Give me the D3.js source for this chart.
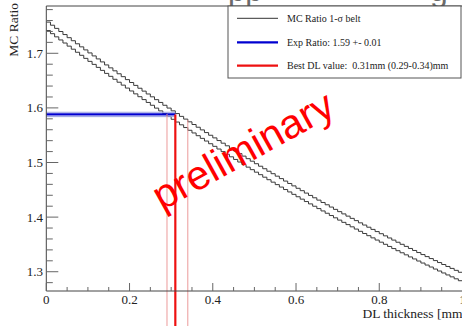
<!DOCTYPE html>
<html><head><meta charset="utf-8">
<script src="https://cdn.jsdelivr.net/npm/d3@7/dist/d3.min.js"></script>
<style>
html,body{margin:0;padding:0;background:#fff;}
svg{display:block;font-family:"Liberation Serif","Times New Roman",serif;}
</style></head><body>
<svg id="chart" width="462" height="326"></svg>
<script>
// MC ratio belt, 100 bins over DL thickness 0..1 mm
var upperBelt = [1.7571,1.7514,1.7456,1.7399,1.7343,1.7286,1.7230,1.7174,1.7118,1.7062,
  1.7007,1.6952,1.6897,1.6842,1.6787,1.6733,1.6679,1.6625,1.6572,1.6518,
  1.6465,1.6412,1.6360,1.6307,1.6255,1.6203,1.6151,1.6100,1.6048,1.5997,
  1.5946,1.5896,1.5845,1.5795,1.5745,1.5696,1.5646,1.5597,1.5548,1.5499,
  1.5451,1.5402,1.5354,1.5306,1.5259,1.5211,1.5164,1.5117,1.5070,1.5024,
  1.4978,1.4932,1.4886,1.4840,1.4795,1.4750,1.4705,1.4660,1.4616,1.4572,
  1.4528,1.4484,1.4440,1.4397,1.4354,1.4311,1.4268,1.4226,1.4184,1.4142,
  1.4100,1.4059,1.4018,1.3977,1.3936,1.3895,1.3855,1.3815,1.3775,1.3735,
  1.3696,1.3657,1.3618,1.3579,1.3540,1.3502,1.3464,1.3426,1.3389,1.3351,
  1.3314,1.3277,1.3241,1.3204,1.3168,1.3132,1.3096,1.3061,1.3025,1.2990];
var lowerBelt = [1.7416,1.7359,1.7301,1.7244,1.7188,1.7131,1.7075,1.7019,1.6963,1.6907,
  1.6852,1.6797,1.6742,1.6687,1.6632,1.6578,1.6524,1.6470,1.6417,1.6363,
  1.6310,1.6257,1.6205,1.6152,1.6100,1.6048,1.5996,1.5945,1.5893,1.5842,
  1.5791,1.5741,1.5690,1.5640,1.5590,1.5541,1.5491,1.5442,1.5393,1.5344,
  1.5296,1.5247,1.5199,1.5151,1.5104,1.5056,1.5009,1.4962,1.4915,1.4869,
  1.4823,1.4777,1.4731,1.4685,1.4640,1.4595,1.4550,1.4505,1.4461,1.4417,
  1.4373,1.4329,1.4285,1.4242,1.4199,1.4156,1.4113,1.4071,1.4029,1.3987,
  1.3945,1.3904,1.3863,1.3822,1.3781,1.3740,1.3700,1.3660,1.3620,1.3580,
  1.3541,1.3502,1.3463,1.3424,1.3385,1.3347,1.3309,1.3271,1.3234,1.3196,
  1.3159,1.3122,1.3086,1.3049,1.3013,1.2977,1.2941,1.2906,1.2870,1.2835];
var binRange = [0, 1];

var xTicks = [0, 0.2, 0.4, 0.6, 0.8, 1];
var xTickLabels = ["0", "0.2", "0.4", "0.6", "0.8", "1"];
var yTicks = [1.3, 1.4, 1.5, 1.6, 1.7];
var yTickLabels = ["1.3", "1.4", "1.5", "1.6", "1.7"];

var expRatio = [1.584, 1.588, 1.592];      // lo, central, hi
var bestDL = [0.29, 0.31, 0.34];           // lo, best, hi
var dlStart = [1.589, 1.588, 1.578];       // where each red line leaves the belt

var legendLabels = ["MC Ratio 1-\u03c3 belt", "Exp Ratio: 1.59 +- 0.01", "Best DL value:  0.31mm (0.29-0.34)mm"];
var legendColors = ["#333", "#0000d0", "#ee1111"];
var legendWidths = [1, 2.2, 2.2];

var W = 462, H = 326;
var svg = d3.select("#chart");
var x = d3.scaleLinear().domain([0, 1]).range([46.3, 462.5]);
var y = d3.scaleLinear().domain([1.2647, 1.7866]).range([291, 6]);

// slide title fragments peeking in at the top
svg.append("text").attr("x", 228).attr("y", 1).attr("font-family", "Liberation Sans, Arial, sans-serif")
  .attr("font-size", 31).attr("fill", "#6a6a6a").text("pp");
svg.append("text").attr("x", 430).attr("y", 1).attr("font-family", "Liberation Sans, Arial, sans-serif")
  .attr("font-size", 32).attr("fill", "#6a6a6a").text("g");

svg.append("clipPath").attr("id", "plotclip").append("rect")
  .attr("x", x(0)).attr("y", y.range()[1]).attr("width", W - x(0)).attr("height", y.range()[0] - y.range()[1]);

// belt histograms
var nb = upperBelt.length, bw = (binRange[1] - binRange[0]) / nb;
function stepPts(vals) {
  var pts = vals.map(function (v, i) { return [binRange[0] + i * bw, v]; });
  pts.push([binRange[1], vals[vals.length - 1]]);
  return pts;
}
var line = d3.line().x(function (d) { return x(d[0]); }).y(function (d) { return y(d[1]); }).curve(d3.curveStepAfter);
var gBelt = svg.append("g").attr("clip-path", "url(#plotclip)");
[upperBelt, lowerBelt].forEach(function (vals) {
  gBelt.append("path").attr("d", line(stepPts(vals))).attr("fill", "none")
    .attr("stroke", "#3a3a3a").attr("stroke-width", 1);
});

// exp ratio lines (thin band + central)
[0, 2].forEach(function (i) {
  svg.append("line").attr("x1", x(0)).attr("x2", x(bestDL[1])).attr("y1", y(expRatio[i])).attr("y2", y(expRatio[i]))
    .attr("stroke", "#9aa0e0").attr("stroke-width", 1);
});
svg.append("line").attr("x1", x(0)).attr("x2", x(bestDL[1])).attr("y1", y(expRatio[1])).attr("y2", y(expRatio[1]))
  .attr("stroke", "#0000d0").attr("stroke-width", 2.2);

// best DL lines down to the page bottom
[0, 2].forEach(function (i) {
  svg.append("line").attr("x1", x(bestDL[i])).attr("x2", x(bestDL[i])).attr("y1", y(dlStart[i])).attr("y2", H)
    .attr("stroke", "#ec9a9a").attr("stroke-width", 1);
});
svg.append("line").attr("x1", x(bestDL[1])).attr("x2", x(bestDL[1])).attr("y1", y(dlStart[1])).attr("y2", H)
  .attr("stroke", "#ee1111").attr("stroke-width", 2.2);

// frame + axes
var axisCol = "#444";
svg.append("line").attr("x1", x(0)).attr("x2", W).attr("y1", y.range()[1]).attr("y2", y.range()[1]).attr("stroke", axisCol);
svg.append("line").attr("x1", x(0)).attr("x2", x(0)).attr("y1", y.range()[1]).attr("y2", y.range()[0]).attr("stroke", axisCol);
svg.append("line").attr("x1", x(0)).attr("x2", W).attr("y1", y.range()[0]).attr("y2", y.range()[0]).attr("stroke", axisCol);

var gAx = svg.append("g").attr("stroke", "#666").attr("stroke-width", 1);
y.ticks(26).forEach(function (t) {
  var major = yTicks.some(function (m) { return Math.abs(m - t) < 1e-6; });
  gAx.append("line").attr("x1", x(0)).attr("x2", x(0) + (major ? 12 : 6.5)).attr("y1", y(t)).attr("y2", y(t));
});
x.ticks(20).forEach(function (t) {
  var major = xTicks.some(function (m) { return Math.abs(m - t) < 1e-6; });
  gAx.append("line").attr("x1", x(t)).attr("x2", x(t)).attr("y1", y.range()[0]).attr("y2", y.range()[0] - (major ? 8 : 4));
});

yTicks.forEach(function (t, i) {
  svg.append("text").attr("x", 43).attr("y", y(t)).attr("dy", "0.34em").attr("text-anchor", "end")
    .attr("font-size", 13).attr("fill", "#222").text(yTickLabels[i]);
});
xTicks.forEach(function (t, i) {
  svg.append("text").attr("x", x(t)).attr("y", 303.5).attr("text-anchor", "middle")
    .attr("font-size", 13).attr("fill", "#222").text(xTickLabels[i]);
});
svg.append("text").attr("x", 362.5).attr("y", 317.5).attr("font-size", 13.5).attr("fill", "#222").text("DL thickness [mm]");
svg.append("text").attr("transform", "translate(18,3) rotate(-90)").attr("text-anchor", "end")
  .attr("font-size", 13.5).attr("fill", "#222").text("MC Ratio");

// legend
var lg = svg.append("g");
lg.append("rect").attr("x", 228).attr("y", 6).attr("width", 233).attr("height", 72)
  .attr("fill", "#fff").attr("stroke", "#555").attr("stroke-width", 1);
var rowY = [18.3, 42.3, 65.7];
legendLabels.forEach(function (lab, i) {
  lg.append("line").attr("x1", 237).attr("x2", 278).attr("y1", rowY[i]).attr("y2", rowY[i])
    .attr("stroke", legendColors[i]).attr("stroke-width", legendWidths[i]);
  lg.append("text").attr("x", 287).attr("y", rowY[i]).attr("dy", "0.33em").attr("font-size", 10)
    .attr("fill", "#222").style("white-space", "pre").text(lab);
});

// watermark
svg.append("text").attr("transform", "translate(162,211) rotate(-29)")
  .attr("font-family", "Liberation Sans, Arial, sans-serif").attr("font-size", 41)
  .attr("fill", "#ff0000").text("preliminary");
</script>
</body></html>
